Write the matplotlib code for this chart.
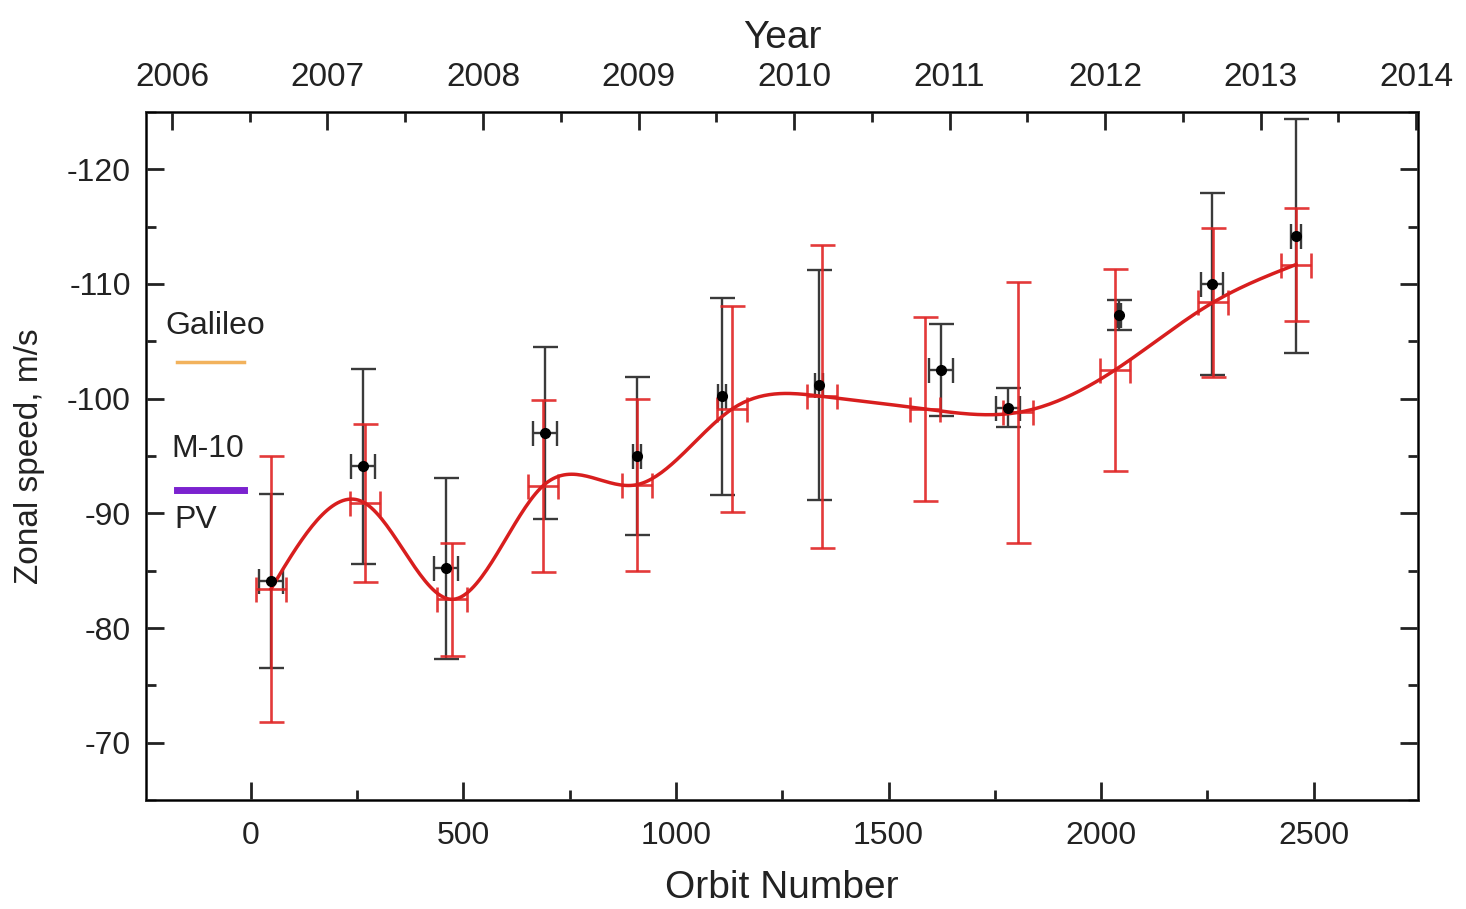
import numpy as np
import matplotlib.pyplot as plt
from matplotlib.ticker import MultipleLocator

plt.rcParams['font.family'] = ['Liberation Sans', 'DejaVu Sans']

# ---- data ----
# black points (measured speeds)
orbit_obs = [47, 264, 459, 692, 908, 1108, 1336, 1624, 1781, 2042, 2261, 2459]
speed_obs = [-84.1, -94.1, -85.2, -97.0, -95.0, -100.2, -101.2, -102.5, -99.2, -107.3, -110.0, -114.2]
speed_obs_err = [7.6, 8.5, 7.9, 7.5, 6.9, 8.6, 10.0, 4.0, 1.7, 1.3, 7.9, 10.2]
orbit_obs_err = [28, 28, 28, 28, 10, 10, 10, 28, 28, 5, 25, 12]

# red points (averaged values, joined by a smooth curve)
orbit_avg = [47, 268, 473, 687, 908, 1132, 1344, 1586, 1805, 2033, 2264, 2459]
speed_avg = [-83.4, -90.9, -82.5, -92.4, -92.5, -99.1, -100.2, -99.1, -98.8, -102.5, -108.4, -111.7]
speed_avg_err = [11.6, 6.9, 4.9, 7.5, 7.5, 9.0, 13.2, 8.0, 11.4, 8.8, 6.5, 4.9]
orbit_avg_err = [35] * 12

# reference values shown at the left
galileo_x = [-174, -16]
galileo_y = [-103.2, -103.2]
m10_x = [-174, -16]
m10_y = [-92.0, -92.0]

year_ticks = [2006, 2007, 2008, 2009, 2010, 2011, 2012, 2013, 2014]


def natural_spline(x, y, xs):
    x = np.asarray(x, float)
    y = np.asarray(y, float)
    n = len(x)
    h = np.diff(x)
    A = np.zeros((n, n))
    b = np.zeros(n)
    A[0, 0] = A[-1, -1] = 1
    for i in range(1, n - 1):
        A[i, i - 1] = h[i - 1]
        A[i, i] = 2 * (h[i - 1] + h[i])
        A[i, i + 1] = h[i]
        b[i] = 3 * ((y[i + 1] - y[i]) / h[i] - (y[i] - y[i - 1]) / h[i - 1])
    c = np.linalg.solve(A, b)
    bb = (y[1:] - y[:-1]) / h - h * (2 * c[:-1] + c[1:]) / 3
    d = (c[1:] - c[:-1]) / (3 * h)
    k = np.clip(np.searchsorted(x, xs) - 1, 0, n - 2)
    t = xs - x[k]
    return y[k] + bb[k] * t + c[k] * t**2 + d[k] * t**3


fig = plt.figure(figsize=(14.66, 9.09), dpi=100)
ax = fig.add_axes([0.0996, 0.1199, 0.8677, 0.7569])

ax.errorbar(orbit_obs, speed_obs, yerr=speed_obs_err, xerr=orbit_obs_err,
            fmt='none', ecolor='#3a3a3a', elinewidth=1.7, capsize=9, capthick=1.7, zorder=2)
ax.errorbar(orbit_avg, speed_avg, yerr=speed_avg_err, xerr=orbit_avg_err,
            fmt='none', ecolor='#e02424', elinewidth=1.9, capsize=9, capthick=1.9,
            alpha=0.9, zorder=3)

xs = np.linspace(orbit_avg[0], orbit_avg[-1], 400)
ax.plot(xs, natural_spline(orbit_avg, speed_avg, xs), color='#d81e1e', lw=2.5, zorder=4)

ax.plot(orbit_obs, speed_obs, 'o', color='black', ms=7, zorder=5)

ax.plot(galileo_x, galileo_y, color='#f2b25c', lw=2.5)
ax.plot(m10_x, m10_y, color='#7b22cf', lw=5)
ax.text(-85, -106.3, 'Galileo', fontsize=23, ha='center', va='center', color='#222222')
ax.text(-101, -95.6, 'M-10', fontsize=23, ha='center', va='center', color='#222222')
ax.text(-130, -89.4, 'PV', fontsize=23, ha='center', va='center', color='#222222')

ax.set_xlim(-247, 2746)
ax.set_ylim(-65, -125)
ax.xaxis.set_major_locator(MultipleLocator(500))
ax.xaxis.set_minor_locator(MultipleLocator(250))
ax.yaxis.set_major_locator(MultipleLocator(10))
ax.yaxis.set_minor_locator(MultipleLocator(5))
ax.tick_params(which='both', direction='in', width=2, top=False, right=True, labelsize=23, colors='#222222')
ax.tick_params(which='major', length=13)
ax.tick_params(which='minor', length=7)
ax.tick_params(axis='x', pad=15)
ax.tick_params(axis='y', pad=11)
ax.set_yticks([-70, -80, -90, -100, -110, -120])
ax.set_yticklabels(['-70', '-80', '-90', '-100', '-110', '-120'])
ax.set_xlabel('Orbit Number', fontsize=28, labelpad=14, color='#222222')
ax.set_ylabel('Zonal speed, m/s', fontsize=24, labelpad=16, color='#222222')
for s in ax.spines.values():
    s.set_linewidth(2)
    s.set_color('#333333')

top = ax.twiny()
top.set_xlim(2005.833, 2014.013)
top.set_xticks(year_ticks)
top.xaxis.set_minor_locator(MultipleLocator(0.5))
top.tick_params(which='both', direction='in', width=2, labelsize=24, colors='#222222', pad=14)
top.tick_params(which='major', length=13)
top.tick_params(which='minor', length=7)
top.set_xlabel('Year', fontsize=28, labelpad=10, color='#222222')

fig.savefig('out.png', dpi=100)
